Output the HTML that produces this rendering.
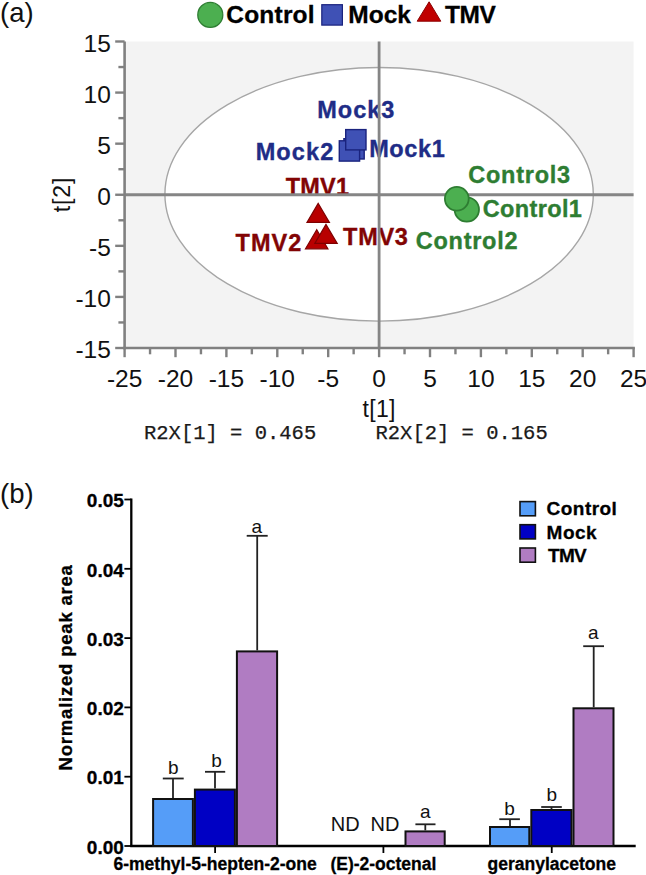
<!DOCTYPE html><html><head><meta charset="utf-8"><style>html,body{margin:0;padding:0;background:#fff;}svg{display:block;}text{font-family:"Liberation Sans", sans-serif;}</style></head><body>
<svg width="646" height="875" viewBox="0 0 646 875">
<text x="0" y="22.4" font-size="27.5" fill="#111">(a)</text>
<circle cx="210.3" cy="14.9" r="12.5" fill="#4caf50" stroke="#2e7d32" stroke-width="1.3"/>
<text x="226.3" y="23" font-size="24.5" font-weight="bold" letter-spacing="0.2" fill="#000" stroke="#000" stroke-width="0.3">Control</text>
<rect x="321.8" y="4.7" width="20.6" height="20.4" fill="#3f51b5" stroke="#1a237e" stroke-width="1.2"/>
<text x="348.3" y="22.8" font-size="24.5" font-weight="bold" fill="#000" stroke="#000" stroke-width="0.3">Mock</text>
<polygon points="429.1,1.8 417.2,21.2 440.8,21.2" fill="#c00000" stroke="#8b0000" stroke-width="1"/>
<text x="445.1" y="22.8" font-size="24.5" font-weight="bold" letter-spacing="-0.5" fill="#000" stroke="#000" stroke-width="0.3">TMV</text>
<rect x="124.6" y="41.5" width="509.0" height="306.5" fill="#f3f3f3"/>
<ellipse cx="379.1" cy="194.3" rx="214.2" ry="126.8" fill="#fff" stroke="#a6a6a6" stroke-width="1.4"/>
<text x="317.3" y="118" font-size="23.5" font-weight="bold" letter-spacing="0.95" fill="#202c86" stroke="#202c86" stroke-width="0.35">Mock3</text>
<text x="255.7" y="159.7" font-size="23.5" font-weight="bold" letter-spacing="1.1" fill="#202c86" stroke="#202c86" stroke-width="0.35">Mock2</text>
<text x="369.2" y="157.4" font-size="23.5" font-weight="bold" letter-spacing="0.6" fill="#202c86" stroke="#202c86" stroke-width="0.35">Mock1</text>
<text x="285.7" y="195" font-size="23.5" font-weight="bold" letter-spacing="0.2" fill="#820404" stroke="#820404" stroke-width="0.35">TMV1</text>
<text x="235.5" y="251.3" font-size="23.5" font-weight="bold" letter-spacing="1.07" fill="#820404" stroke="#820404" stroke-width="0.35">TMV2</text>
<text x="343.1" y="245" font-size="23.5" font-weight="bold" letter-spacing="0.7" fill="#820404" stroke="#820404" stroke-width="0.35">TMV3</text>
<text x="468.2" y="182.7" font-size="23.5" font-weight="bold" letter-spacing="0.76" fill="#2e7d32" stroke="#2e7d32" stroke-width="0.35">Control3</text>
<text x="482.8" y="216.8" font-size="23.5" font-weight="bold" letter-spacing="0.35" fill="#2e7d32" stroke="#2e7d32" stroke-width="0.35">Control1</text>
<text x="415.8" y="248.8" font-size="23.5" font-weight="bold" letter-spacing="0.73" fill="#2e7d32" stroke="#2e7d32" stroke-width="0.35">Control2</text>
<line x1="124.6" y1="194.75" x2="633.6" y2="194.75" stroke="#858585" stroke-width="2.8"/>
<line x1="379.1" y1="41.5" x2="379.1" y2="348.0" stroke="#858585" stroke-width="2.8"/>
<line x1="124.6" y1="41.5" x2="124.6" y2="349.3" stroke="#808080" stroke-width="2.6"/>
<line x1="123.3" y1="348.0" x2="634.9" y2="348.0" stroke="#808080" stroke-width="2.6"/>
<line x1="115.2" y1="348.0" x2="124.6" y2="348.0" stroke="#808080" stroke-width="2.4"/>
<text x="110.8" y="358.2" font-size="24.5" text-anchor="end" fill="#111">-15</text>
<line x1="115.2" y1="296.9166666666667" x2="124.6" y2="296.9166666666667" stroke="#808080" stroke-width="2.4"/>
<text x="110.8" y="307.1" font-size="24.5" text-anchor="end" fill="#111">-10</text>
<line x1="115.2" y1="245.83333333333331" x2="124.6" y2="245.83333333333331" stroke="#808080" stroke-width="2.4"/>
<text x="110.8" y="256.0" font-size="24.5" text-anchor="end" fill="#111">-5</text>
<line x1="115.2" y1="194.75" x2="124.6" y2="194.75" stroke="#808080" stroke-width="2.4"/>
<text x="110.8" y="204.9" font-size="24.5" text-anchor="end" fill="#111">0</text>
<line x1="115.2" y1="143.66666666666666" x2="124.6" y2="143.66666666666666" stroke="#808080" stroke-width="2.4"/>
<text x="110.8" y="153.9" font-size="24.5" text-anchor="end" fill="#111">5</text>
<line x1="115.2" y1="92.58333333333334" x2="124.6" y2="92.58333333333334" stroke="#808080" stroke-width="2.4"/>
<text x="110.8" y="102.8" font-size="24.5" text-anchor="end" fill="#111">10</text>
<line x1="115.2" y1="41.5" x2="124.6" y2="41.5" stroke="#808080" stroke-width="2.4"/>
<text x="110.8" y="51.7" font-size="24.5" text-anchor="end" fill="#111">15</text>
<line x1="118.4" y1="322.4583333333333" x2="124.6" y2="322.4583333333333" stroke="#808080" stroke-width="2.4"/>
<line x1="118.4" y1="271.375" x2="124.6" y2="271.375" stroke="#808080" stroke-width="2.4"/>
<line x1="118.4" y1="220.29166666666669" x2="124.6" y2="220.29166666666669" stroke="#808080" stroke-width="2.4"/>
<line x1="118.4" y1="169.20833333333334" x2="124.6" y2="169.20833333333334" stroke="#808080" stroke-width="2.4"/>
<line x1="118.4" y1="118.125" x2="124.6" y2="118.125" stroke="#808080" stroke-width="2.4"/>
<line x1="118.4" y1="67.04166666666669" x2="124.6" y2="67.04166666666669" stroke="#808080" stroke-width="2.4"/>
<line x1="124.6" y1="348.0" x2="124.6" y2="357.2" stroke="#808080" stroke-width="2.4"/>
<text x="124.6" y="387.3" font-size="24.5" text-anchor="middle" fill="#111">-25</text>
<line x1="175.5" y1="348.0" x2="175.5" y2="357.2" stroke="#808080" stroke-width="2.4"/>
<text x="175.5" y="387.3" font-size="24.5" text-anchor="middle" fill="#111">-20</text>
<line x1="226.39999999999998" y1="348.0" x2="226.39999999999998" y2="357.2" stroke="#808080" stroke-width="2.4"/>
<text x="226.4" y="387.3" font-size="24.5" text-anchor="middle" fill="#111">-15</text>
<line x1="277.29999999999995" y1="348.0" x2="277.29999999999995" y2="357.2" stroke="#808080" stroke-width="2.4"/>
<text x="277.3" y="387.3" font-size="24.5" text-anchor="middle" fill="#111">-10</text>
<line x1="328.2" y1="348.0" x2="328.2" y2="357.2" stroke="#808080" stroke-width="2.4"/>
<text x="328.2" y="387.3" font-size="24.5" text-anchor="middle" fill="#111">-5</text>
<line x1="379.1" y1="348.0" x2="379.1" y2="357.2" stroke="#808080" stroke-width="2.4"/>
<text x="379.1" y="387.3" font-size="24.5" text-anchor="middle" fill="#111">0</text>
<line x1="430.0" y1="348.0" x2="430.0" y2="357.2" stroke="#808080" stroke-width="2.4"/>
<text x="430.0" y="387.3" font-size="24.5" text-anchor="middle" fill="#111">5</text>
<line x1="480.9" y1="348.0" x2="480.9" y2="357.2" stroke="#808080" stroke-width="2.4"/>
<text x="480.9" y="387.3" font-size="24.5" text-anchor="middle" fill="#111">10</text>
<line x1="531.8" y1="348.0" x2="531.8" y2="357.2" stroke="#808080" stroke-width="2.4"/>
<text x="531.8" y="387.3" font-size="24.5" text-anchor="middle" fill="#111">15</text>
<line x1="582.7" y1="348.0" x2="582.7" y2="357.2" stroke="#808080" stroke-width="2.4"/>
<text x="582.7" y="387.3" font-size="24.5" text-anchor="middle" fill="#111">20</text>
<line x1="633.6" y1="348.0" x2="633.6" y2="357.2" stroke="#808080" stroke-width="2.4"/>
<text x="633.6" y="387.3" font-size="24.5" text-anchor="middle" fill="#111">25</text>
<line x1="150.04999999999998" y1="348.0" x2="150.04999999999998" y2="354.3" stroke="#808080" stroke-width="2.4"/>
<line x1="200.95" y1="348.0" x2="200.95" y2="354.3" stroke="#808080" stroke-width="2.4"/>
<line x1="251.85" y1="348.0" x2="251.85" y2="354.3" stroke="#808080" stroke-width="2.4"/>
<line x1="302.75" y1="348.0" x2="302.75" y2="354.3" stroke="#808080" stroke-width="2.4"/>
<line x1="353.65" y1="348.0" x2="353.65" y2="354.3" stroke="#808080" stroke-width="2.4"/>
<line x1="404.54999999999995" y1="348.0" x2="404.54999999999995" y2="354.3" stroke="#808080" stroke-width="2.4"/>
<line x1="455.45000000000005" y1="348.0" x2="455.45000000000005" y2="354.3" stroke="#808080" stroke-width="2.4"/>
<line x1="506.35" y1="348.0" x2="506.35" y2="354.3" stroke="#808080" stroke-width="2.4"/>
<line x1="557.25" y1="348.0" x2="557.25" y2="354.3" stroke="#808080" stroke-width="2.4"/>
<line x1="608.15" y1="348.0" x2="608.15" y2="354.3" stroke="#808080" stroke-width="2.4"/>
<text x="379.1" y="416.9" font-size="23" letter-spacing="0.35" text-anchor="middle" fill="#111">t[1]</text>
<text transform="translate(69.5,194.5) rotate(-90)" x="0" y="0" font-size="23" letter-spacing="0.9" text-anchor="middle" fill="#111">t[2]</text>
<text x="144" y="438.5" font-size="20.5" fill="#1a1a1a" stroke="#1a1a1a" stroke-width="0.25" style="font-family:'Liberation Mono', monospace">R2X[1] = 0.465</text>
<text x="375.5" y="438.5" font-size="20.5" fill="#1a1a1a" stroke="#1a1a1a" stroke-width="0.25" style="font-family:'Liberation Mono', monospace">R2X[2] = 0.165</text>
<rect x="343.9" y="138.7" width="20.3" height="20.3" fill="#3f51b5" stroke="#1a237e" stroke-width="1.4"/>
<rect x="339.3" y="140.79999999999998" width="20.3" height="20.3" fill="#3f51b5" stroke="#1a237e" stroke-width="1.4"/>
<rect x="345.7" y="129.6" width="20.3" height="20.3" fill="#3f51b5" stroke="#1a237e" stroke-width="1.4"/>
<polygon points="318.2,203.4 307.0,222.4 329.4,222.4" fill="#b80000" stroke="#7e0000" stroke-width="1.2" stroke-linejoin="miter"/>
<polygon points="316.7,229.8 305.5,248.8 327.9,248.8" fill="#b80000" stroke="#7e0000" stroke-width="1.2" stroke-linejoin="miter"/>
<polygon points="326,224.4 314.8,243.4 337.2,243.4" fill="#b80000" stroke="#7e0000" stroke-width="1.2" stroke-linejoin="miter"/>
<circle cx="466.8" cy="209.5" r="12.2" fill="#4caf50" stroke="#2e7d32" stroke-width="1.8"/>
<circle cx="456.8" cy="198.8" r="11.9" fill="#4caf50" stroke="#2e7d32" stroke-width="1.8"/>
<text x="0" y="502.9" font-size="27.5" fill="#111">(b)</text>
<line x1="131.3" y1="498.5" x2="131.3" y2="847.1" stroke="#000" stroke-width="2.3"/>
<line x1="130.20000000000002" y1="846.0" x2="635.7" y2="846.0" stroke="#000" stroke-width="2.3"/>
<line x1="124.4" y1="846.0" x2="131.3" y2="846.0" stroke="#000" stroke-width="1.8"/>
<text x="123.8" y="853.7" font-size="19" font-weight="bold" text-anchor="end" fill="#000" stroke="#000" stroke-width="0.3">0.00</text>
<line x1="124.4" y1="776.7" x2="131.3" y2="776.7" stroke="#000" stroke-width="1.8"/>
<text x="123.8" y="784.4" font-size="19" font-weight="bold" text-anchor="end" fill="#000" stroke="#000" stroke-width="0.3">0.01</text>
<line x1="124.4" y1="707.4" x2="131.3" y2="707.4" stroke="#000" stroke-width="1.8"/>
<text x="123.8" y="715.1" font-size="19" font-weight="bold" text-anchor="end" fill="#000" stroke="#000" stroke-width="0.3">0.02</text>
<line x1="124.4" y1="638.1" x2="131.3" y2="638.1" stroke="#000" stroke-width="1.8"/>
<text x="123.8" y="645.8" font-size="19" font-weight="bold" text-anchor="end" fill="#000" stroke="#000" stroke-width="0.3">0.03</text>
<line x1="124.4" y1="568.8" x2="131.3" y2="568.8" stroke="#000" stroke-width="1.8"/>
<text x="123.8" y="576.5" font-size="19" font-weight="bold" text-anchor="end" fill="#000" stroke="#000" stroke-width="0.3">0.04</text>
<line x1="124.4" y1="499.5" x2="131.3" y2="499.5" stroke="#000" stroke-width="1.8"/>
<text x="123.8" y="507.2" font-size="19" font-weight="bold" text-anchor="end" fill="#000" stroke="#000" stroke-width="0.3">0.05</text>
<line x1="215.1" y1="846.0" x2="215.1" y2="853" stroke="#000" stroke-width="1.8"/>
<line x1="383.4" y1="846.0" x2="383.4" y2="853" stroke="#000" stroke-width="1.8"/>
<line x1="551.75" y1="846.0" x2="551.75" y2="853" stroke="#000" stroke-width="1.8"/>
<text x="215.1" y="870" font-size="17.5" font-weight="bold" text-anchor="middle" fill="#000" stroke="#000" stroke-width="0.3">6-methyl-5-hepten-2-one</text>
<text x="383.4" y="870" font-size="17.5" font-weight="bold" text-anchor="middle" fill="#000" stroke="#000" stroke-width="0.3">(E)-2-octenal</text>
<text x="551.75" y="870" font-size="17.5" font-weight="bold" text-anchor="middle" fill="#000" stroke="#000" stroke-width="0.3">geranylacetone</text>
<rect x="153.1" y="799" width="39.80000000000001" height="47.0" fill="#559df8" stroke="#111" stroke-width="2"/>
<rect x="194.9" y="789.6" width="40.0" height="56.39999999999998" fill="#0000c4" stroke="#111" stroke-width="2"/>
<rect x="236.9" y="651.4" width="40.20000000000002" height="194.60000000000002" fill="#b07cc2" stroke="#111" stroke-width="2"/>
<rect x="405.5" y="831.4" width="39.19999999999999" height="14.600000000000023" fill="#b07cc2" stroke="#111" stroke-width="2"/>
<rect x="490" y="827" width="39.299999999999955" height="19.0" fill="#559df8" stroke="#111" stroke-width="2"/>
<rect x="531.3" y="810" width="40.200000000000045" height="36.0" fill="#0000c4" stroke="#111" stroke-width="2"/>
<rect x="573.5" y="708.3" width="40.0" height="137.70000000000005" fill="#b07cc2" stroke="#111" stroke-width="2"/>
<line x1="173" y1="798" x2="173" y2="778.5" stroke="#222" stroke-width="1.8"/>
<line x1="162.8" y1="778.5" x2="183.7" y2="778.5" stroke="#222" stroke-width="1.8"/>
<line x1="215" y1="788.6" x2="215" y2="771.8" stroke="#222" stroke-width="1.8"/>
<line x1="205" y1="771.8" x2="225.2" y2="771.8" stroke="#222" stroke-width="1.8"/>
<line x1="257.2" y1="650.4" x2="257.2" y2="535.8" stroke="#222" stroke-width="1.8"/>
<line x1="246.7" y1="535.8" x2="267.7" y2="535.8" stroke="#222" stroke-width="1.8"/>
<line x1="425.3" y1="830.4" x2="425.3" y2="824.3" stroke="#222" stroke-width="1.8"/>
<line x1="415.4" y1="824.3" x2="435.5" y2="824.3" stroke="#222" stroke-width="1.8"/>
<line x1="510" y1="826" x2="510" y2="819.2" stroke="#222" stroke-width="1.8"/>
<line x1="499.3" y1="819.2" x2="519.9" y2="819.2" stroke="#222" stroke-width="1.8"/>
<line x1="551.5" y1="809" x2="551.5" y2="807" stroke="#222" stroke-width="1.8"/>
<line x1="541.2" y1="807" x2="561.8" y2="807" stroke="#222" stroke-width="1.8"/>
<line x1="593.7" y1="707.3" x2="593.7" y2="646.2" stroke="#222" stroke-width="1.8"/>
<line x1="583.2" y1="646.2" x2="604" y2="646.2" stroke="#222" stroke-width="1.8"/>
<text x="173.3" y="774.1" font-size="19" text-anchor="middle" fill="#111">b</text>
<text x="216.6" y="766.7" font-size="19" text-anchor="middle" fill="#111">b</text>
<text x="256.7" y="532.6" font-size="19" text-anchor="middle" fill="#111">a</text>
<text x="425.2" y="817.8" font-size="19" text-anchor="middle" fill="#111">a</text>
<text x="509.5" y="815.3" font-size="19" text-anchor="middle" fill="#111">b</text>
<text x="551.9" y="801.3" font-size="19" text-anchor="middle" fill="#111">b</text>
<text x="593.4" y="639" font-size="19" text-anchor="middle" fill="#111">a</text>
<text x="345.3" y="830.8" font-size="20" text-anchor="middle" fill="#111">ND</text>
<text x="385" y="830.8" font-size="20" text-anchor="middle" fill="#111">ND</text>
<rect x="520" y="501.6" width="15.4" height="14.2" fill="#559df8" stroke="#111" stroke-width="1.6"/>
<text x="546.6" y="515.3" font-size="19" font-weight="bold" letter-spacing="0.45" fill="#000" stroke="#000" stroke-width="0.3">Control</text>
<rect x="520" y="524.6999999999999" width="15.4" height="14.2" fill="#0000c4" stroke="#111" stroke-width="1.6"/>
<text x="546.6" y="538.6" font-size="19" font-weight="bold" letter-spacing="0.5" fill="#000" stroke="#000" stroke-width="0.3">Mock</text>
<rect x="520" y="548.0" width="15.4" height="14.2" fill="#b07cc2" stroke="#111" stroke-width="1.6"/>
<text x="548.1" y="561.9" font-size="19" font-weight="bold" letter-spacing="-0.75" fill="#000" stroke="#000" stroke-width="0.3">TMV</text>
<text transform="translate(72.3,667.4) rotate(-90)" x="0" y="0" font-size="18.6" letter-spacing="0.75" font-weight="bold" text-anchor="middle" fill="#000" stroke="#000" stroke-width="0.3">Normalized peak area</text>
</svg></body></html>
